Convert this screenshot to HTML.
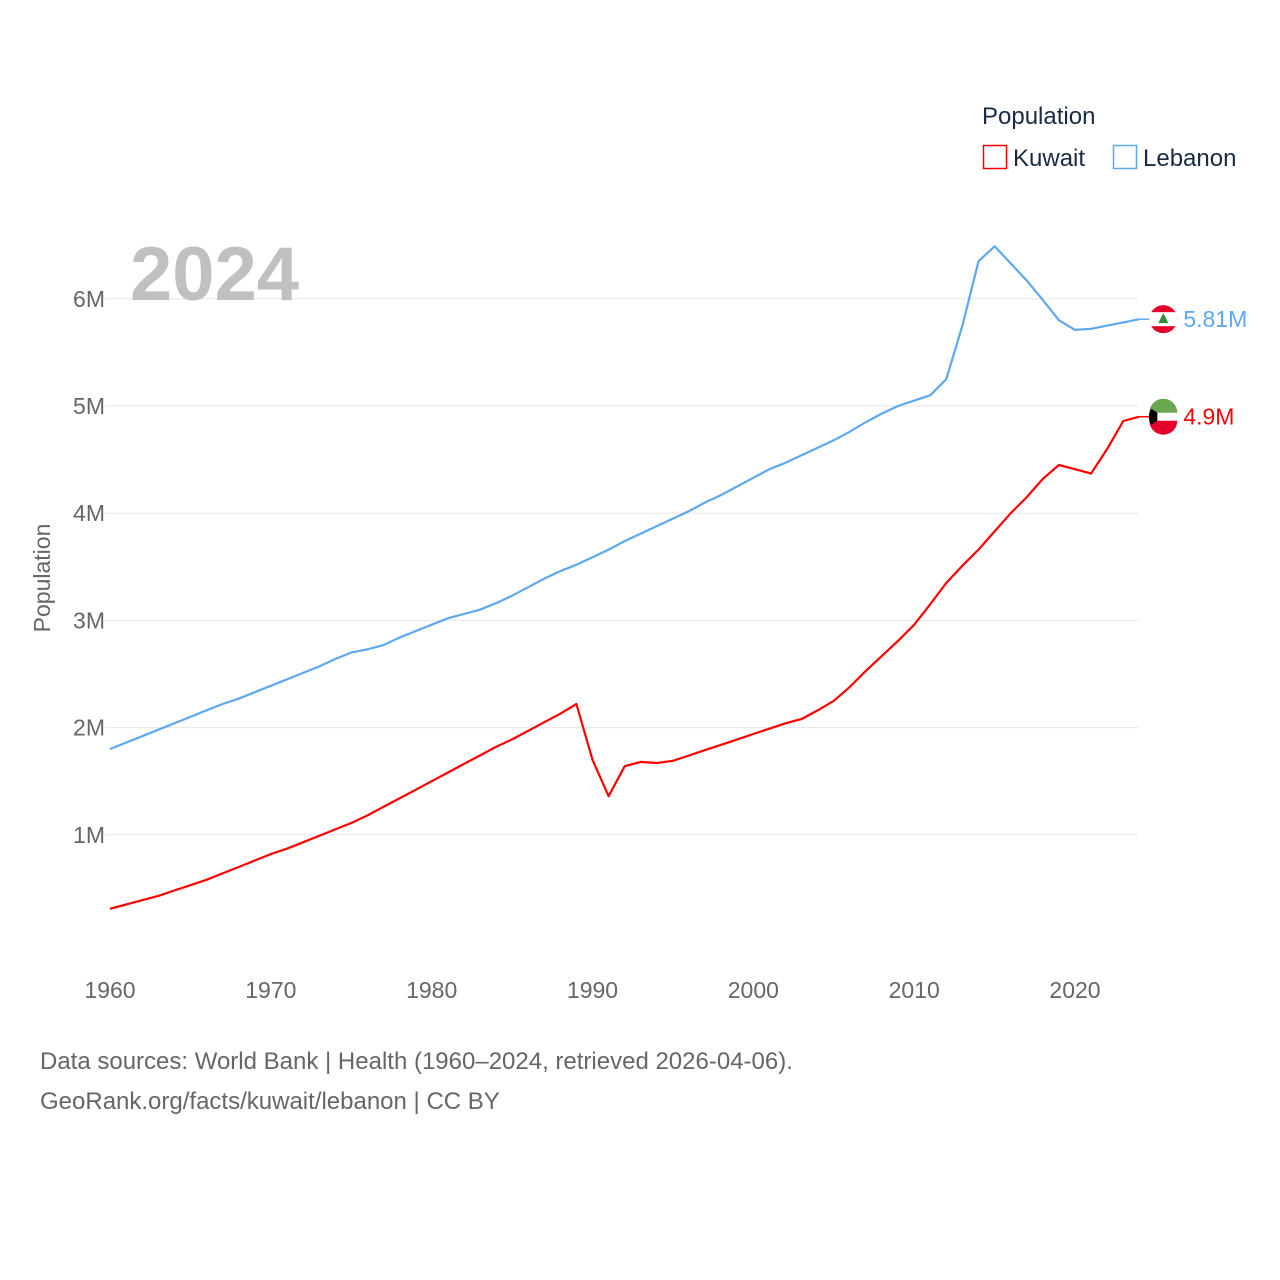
<!DOCTYPE html>
<html><head><meta charset="utf-8"><style>
html,body{margin:0;padding:0;background:#fff;}
svg{display:block;font-family:"Liberation Sans",sans-serif;}
</style></head><body>
<svg id="chart" width="1280" height="1280" viewBox="0 0 1280 1280">
<g id="grid"></g>
<g id="yticks"></g>
<g id="xticks"></g>
<text x="130" y="300" font-size="76" font-weight="bold" fill="#c0c0c0">2024</text>
<text transform="translate(50,578) rotate(-90)" text-anchor="middle" font-size="23" fill="#666">Population</text>
<g id="lines"></g>
<g>
<text x="982" y="124" font-size="24" fill="#1a2a44">Population</text>
<rect x="983.5" y="145.5" width="23" height="23" fill="none" stroke="#ff0000" stroke-width="1.5"/>
<text x="1013" y="166" font-size="24" fill="#1a2a44">Kuwait</text>
<rect x="1113.5" y="145.5" width="23" height="23" fill="none" stroke="#5ea8ee" stroke-width="1.5"/>
<text x="1143" y="166" font-size="24" fill="#1a2a44">Lebanon</text>
</g>
<text x="40" y="1069" font-size="24" fill="#666">Data sources: World Bank | Health (1960–2024, retrieved 2026-04-06).</text>
<text x="40" y="1109" font-size="24" fill="#666">GeoRank.org/facts/kuwait/lebanon | CC BY</text>
</svg>
<script>
const years = [];
for (let y = 1960; y <= 2024; y++) years.push(y);
const kuwait = [0.31,0.35,0.39,0.43,0.48,0.53,0.58,0.64,0.70,0.76,
0.82,0.87,0.93,0.99,1.05,1.11,1.18,1.26,1.34,1.42,
1.50,1.58,1.66,1.74,1.82,1.89,1.97,2.05,2.13,2.22,
1.70,1.36,1.64,1.68,1.67,1.69,1.74,1.79,1.84,1.89,
1.94,1.99,2.04,2.08,2.16,2.25,2.38,2.53,2.67,2.81,
2.96,3.15,3.35,3.51,3.66,3.83,4.00,4.15,4.32,4.45,
4.41,4.37,4.60,4.86,4.90];
const lebanon = [1.80,1.86,1.92,1.98,2.04,2.10,2.16,2.22,2.27,2.33,
2.39,2.45,2.51,2.57,2.64,2.70,2.73,2.77,2.84,2.90,
2.96,3.02,3.06,3.10,3.16,3.23,3.31,3.39,3.46,3.52,
3.59,3.66,3.74,3.81,3.88,3.95,4.02,4.10,4.17,4.25,
4.33,4.41,4.47,4.54,4.61,4.68,4.76,4.85,4.93,5.00,
5.05,5.10,5.25,5.75,6.35,6.49,6.33,6.17,5.99,5.80,
5.71,5.72,5.75,5.78,5.81];
const yTicks = [1,2,3,4,5,6];
const yTickLabels = ["1M","2M","3M","4M","5M","6M"];
const xTicks = [1960,1970,1980,1990,2000,2010,2020];

const NS = "http://www.w3.org/2000/svg";
const xS = y => 110 + (y - 1960) * (965 / 60);
const yS = v => 942 - v * 107.2;
function mk(tag, attrs, parent){const e=document.createElementNS(NS,tag);for(const k in attrs)e.setAttribute(k,attrs[k]);parent.appendChild(e);return e;}

const grid = document.getElementById('grid'), yt = document.getElementById('yticks'), xt = document.getElementById('xticks'), lines = document.getElementById('lines');
yTicks.forEach((v,i)=>{
  const l = mk('line',{x1:105,x2:1138,y1:yS(v),y2:yS(v),stroke:'#e6e6e6','stroke-width':1},grid);
  
  
  const t = mk('text',{x:105,y:yS(v)+8,'text-anchor':'end','font-size':23,fill:'#666'},yt);
  t.textContent = yTickLabels[i];
  
  
});
xTicks.forEach(v=>{
  const t = mk('text',{x:xS(v),y:998,'text-anchor':'middle','font-size':23,fill:'#666'},xt);
  t.textContent = v;
  
  
});
function drawLine(vals,color,name){
  const d = vals.map((v,i)=>(i?'L':'M')+xS(years[i]).toFixed(1)+','+yS(v).toFixed(1)).join('');
  const p = mk('path',{d:d,fill:'none',stroke:color,'stroke-width':2.2,'stroke-linejoin':'round'},lines);
  
  
}
drawLine(lebanon,'#5ea8ee','line-lebanon');
drawLine(kuwait,'#ff0000','line-kuwait');

function endMark(vals,color,label,name,flag){
  const v = vals[vals.length-1], x = xS(2024)+24, y = yS(v);
  mk('line',{x1:xS(2024),x2:x-14,y1:y,y2:y,stroke:color,'stroke-width':1.5},lines);
  const g = mk('g',{},lines);
  
  
  flag(g,x,y);
  const t = mk('text',{x:x+20,y:y+8,'font-size':23,fill:color},lines);
  t.textContent = label;
  
  
}
endMark(lebanon,'#5ea8ee','5.81M','lebanon',(g,x,y)=>{
  mk('circle',{cx:x,cy:y,r:14,fill:'#e4002b'},g);
  mk('rect',{x:x-14,y:y-7,width:28,height:14,fill:'#fff'},g);
  mk('path',{d:`M${x},${y-6}L${x+5},${y+4}L${x-5},${y+4}Z`,fill:'#2e8b3a'},g);
});
endMark(kuwait,'#ff0000','4.9M','kuwait',(g,x,y)=>{
  mk('circle',{cx:x,cy:y,r:14,fill:'#fff'},g);
  mk('path',{d:`M${x-14},${y-4}A14,14 0 0 1 ${x+14},${y-4}Z`,fill:'#6aa84f'},g);
  mk('path',{d:`M${x-14},${y+4}A14,14 0 0 0 ${x+14},${y+4}Z`,fill:'#e4002b'},g);
  mk('path',{d:`M${x-12},${y-8}L${x-6},${y-4}L${x-6},${y+4}L${x-12},${y+8}A14,14 0 0 1 ${x-12},${y-8}Z`,fill:'#000'},g);
});
</script>
</body></html>
